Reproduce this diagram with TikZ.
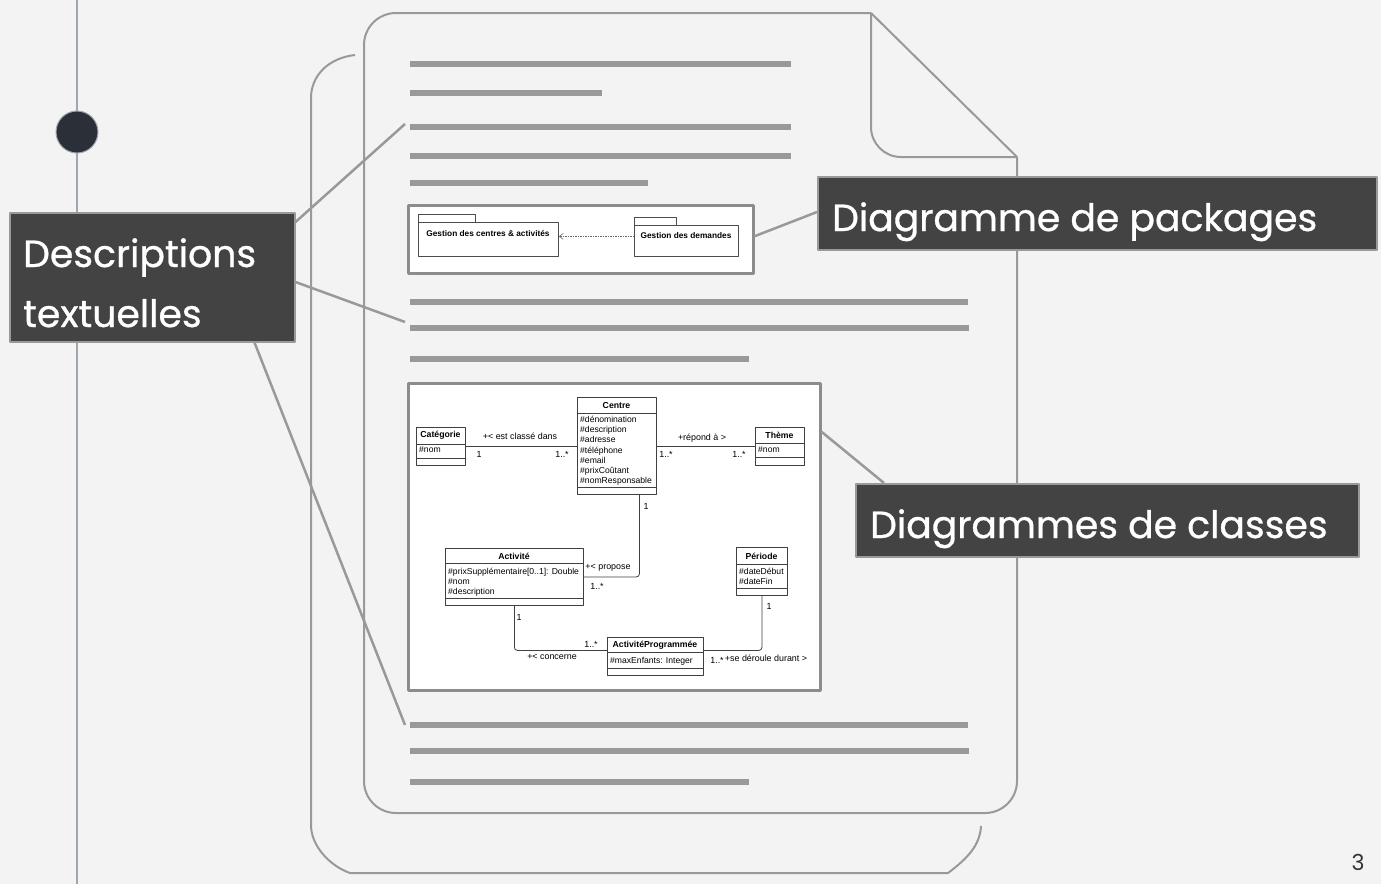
\documentclass[tikz,border=0pt]{standalone}
\usepackage{fontspec}
\usepackage{tikz}
\usetikzlibrary{arrows.meta}
\setmainfont{Liberation Sans}
\newfontfamily\tagfont{Poppins}[FakeBold=0.8]
\newfontfamily\numfont{Poppins}
\definecolor{bgc}{RGB}{243,243,243}
\definecolor{barc}{RGB}{153,153,153}
\definecolor{tagc}{RGB}{67,67,67}
\definecolor{dotc}{RGB}{43,47,56}
\definecolor{rulec}{RGB}{160,166,176}

\begin{document}
\begin{tikzpicture}[x=1pt, y=-1pt, line join=round,
  bar/.style={barc, line width=6pt},
  page/.style={barc, line width=2pt},
  link/.style={barc, line width=2.5pt},
  tag/.style={fill=tagc, draw=barc, line width=1.5pt, anchor=north west, inner sep=0pt},
  tagtext/.style={text=white, anchor=base west, inner sep=0pt, font=\tagfont\fontsize{37.8}{44}\selectfont},
  fig/.style={fill=white, draw=black!45, line width=2.5pt, anchor=north west, inner sep=0pt},
  cls/.style={fill=white, draw=black!75, line width=.8pt, anchor=north west, inner sep=0pt},
  sep/.style={draw=black!75, line width=.8pt},
  ttl/.style={font=\bfseries\fontsize{8.7}{10}\selectfont, inner sep=0pt},
  att/.style={font=\fontsize{8.6}{10.2}\selectfont, align=left, anchor=north west, inner sep=0pt},
  lbl/.style={font=\fontsize{8.9}{10}\selectfont, inner sep=0pt},
  assoc/.style={draw=black!75, line width=.8pt, rounded corners=3pt}]
\fill[bgc] (0,0) rectangle (1381,884);
\useasboundingbox (0,0) rectangle (1381,884);

\draw[rulec, line width=1.5pt] (77,0) -- (77,884);
\draw[fill=dotc, draw=rulec, line width=1pt] (77,132) circle (21pt);

% pages
\draw[page] (355,55) .. controls (328,58) and (311,76) .. (311,98) -- (311,825)
  .. controls (311,846) and (330,866) .. (350,873) -- (948,873)
  .. controls (968,858) and (980,845) .. (981,826);
\draw[page, rounded corners=32pt] (871,13) -- (364,13) -- (364,813) -- (1017,813) -- (1017,157);
\draw[page] (871,13) -- (1017,157);
\draw[page, rounded corners=30pt] (871,13) -- (871,157) -- (1017,157);

% text lines
\foreach \y/\x in {64/791, 93/602, 127/791, 156/791, 183/648, 302/968, 328/969, 359/749, 725/968, 751/969, 782/749}
  \draw[bar] (410,\y) -- (\x,\y);

% package diagram
\node[fig, minimum width=345pt, minimum height=68pt] (pkgfig) at (407,204) {};
\node[cls, draw=black!70, minimum width=57pt, minimum height=8pt] (pkg1tab) at (418,214) {};
\node[cls, draw=black!70, minimum width=140pt, minimum height=34pt] (pkg1) at (418,222) {};
\node[font=\bfseries\fontsize{8.3}{9}\selectfont, inner sep=0pt] (pkg1-t) at (488,233) {Gestion des centres \& activités};
\node[cls, draw=black!70, minimum width=42pt, minimum height=8pt] (pkg2tab) at (634,217) {};
\node[cls, draw=black!70, minimum width=104pt, minimum height=31pt] (pkg2) at (634,225) {};
\node[font=\bfseries\fontsize{8.3}{9}\selectfont, inner sep=0pt] (pkg2-t) at (686,236) {Gestion des demandes};
\draw[black!60, line width=.6pt, dash pattern=on 1.5pt off 1pt, -{Straight Barb[length=4pt, width=6pt]}]
  ([yshift=4.5pt]pkg2.west) -- ([yshift=4.5pt]pkg2.west -| pkg1.east);

% class diagram
\node[fig, minimum width=412pt, minimum height=307pt] (clsfig) at (407,382) {};

\node[cls, minimum width=49pt, minimum height=38pt] (categorie) at (416,427) {};
\draw[sep] (categorie.north west) ++(0,17) -- ++(49,0) ++(-49,14) -- ++(49,0);
\node[ttl] (categorie-t) at (440.5,435.5) {Catégorie};
\node[att] (categorie-a) at (419,446) {\#nom};

\node[cls, minimum width=79pt, minimum height=97pt] (centre) at (577,397) {};
\draw[sep] (centre.north west) ++(0,16) -- ++(79,0) ++(-79,74) -- ++(79,0);
\node[ttl] (centre-t) at (616.5,405) {Centre};
\node[att] (centre-a) at (580,416) {\#dénomination\\\#description\\\#adresse\\\#téléphone\\\#email\\\#prixCoûtant\\\#nomResponsable};

\node[cls, minimum width=49pt, minimum height=38pt] (theme) at (755,427) {};
\draw[sep] (theme.north west) ++(0,16) -- ++(49,0) ++(-49,14) -- ++(49,0);
\node[ttl] (theme-t) at (779.5,435) {Thème};
\node[att] (theme-a) at (758,446) {\#nom};

\node[cls, minimum width=138pt, minimum height=57pt] (activite) at (445,548) {};
\draw[sep] (activite.north west) ++(0,15) -- ++(138,0) ++(-138,35) -- ++(138,0);
\node[ttl] (activite-t) at (514,556) {Activité};
\node[att] (activite-a) at (448,568) {\#prixSupplémentaire[0..1]: Double\\\#nom\\\#description};

\node[cls, minimum width=51pt, minimum height=48pt] (periode) at (736,547) {};
\draw[sep] (periode.north west) ++(0,17) -- ++(51,0) ++(-51,24) -- ++(51,0);
\node[ttl] (periode-t) at (761.5,556) {Période};
\node[att] (periode-a) at (739,568) {\#dateDébut\\\#dateFin};

\node[cls, minimum width=96pt, minimum height=38pt] (actprog) at (607,637) {};
\draw[sep] (actprog.north west) ++(0,15) -- ++(96,0) ++(-96,16) -- ++(96,0);
\node[ttl] (actprog-t) at (655,645) {ActivitéProgrammée};
\node[att] (actprog-a) at (610,657) {\#maxEnfants: Integer};

\draw[assoc] ([yshift=0.5pt]categorie.east) -- ([yshift=0.5pt]categorie.east -| centre.west);
\draw[assoc] ([yshift=0.5pt]theme.west) -- ([yshift=0.5pt]theme.west -| centre.east);
\draw[assoc] ([xshift=22.5pt]centre.south) |- (activite.east);
\draw[assoc] (activite.south) |- ([yshift=6pt]actprog.west);
\draw[assoc] (periode.south) |- ([yshift=6pt]actprog.east);

\node[lbl] (l1) at (520,436) {+< est classé dans};
\node[lbl] (l2) at (479,454) {1};
\node[lbl] (l3) at (562,454) {1..*};
\node[lbl] (l4) at (702,438) {+répond à >};
\node[lbl] (l5) at (666,454) {1..*};
\node[lbl] (l6) at (739,454) {1..*};
\node[lbl] (l7) at (646,506) {1};
\node[lbl] (l8) at (608,568) {+< propose};
\node[lbl] (l9) at (597,586) {1..*};
\node[lbl] (l10) at (519,617) {1};
\node[lbl] (l11) at (591,644) {1..*};
\node[lbl] (l12) at (552,657) {+< concerne};
\node[lbl] (l13) at (769,606) {1};
\node[lbl] (l14) at (717,660) {1..*};
\node[lbl] (l15) at (766,658) {+se déroule durant >};

% tags
\node[tag, minimum width=285pt, minimum height=129pt] (desc) at (9,212) {};
\node[tagtext] (desc-t1) at (23,267) {Descriptions};
\node[tagtext] (desc-t2) at (23,327) {textuelles};
\node[tag, minimum width=559pt, minimum height=73pt] (pkgtag) at (817,176) {};
\node[tagtext] (pkgtag-t) at (832,231) {Diagramme de packages};
\node[tag, minimum width=503pt, minimum height=73pt] (clstag) at (855,483) {};
\node[tagtext] (clstag-t) at (870,538) {Diagrammes de classes};

\coordinate (d1) at (405,124);
\coordinate (d2) at (405,322);
\coordinate (d3) at (405,725);
\draw[link] ([yshift=-10pt]desc.north east) -- (d1);
\draw[link] ([yshift=-70pt]desc.north east) -- (d2);
\draw[link] ([xshift=-41pt]desc.south east) -- (d3);
\draw[link] ([yshift=3pt]pkgfig.east) -- ([yshift=-36pt]pkgtag.north west);
\draw[link] ([yshift=105pt]clsfig.east) -- ([xshift=29pt]clstag.north west);

\node[font=\numfont\fontsize{22}{26}\selectfont, text=black!80, inner sep=0pt] (pnum) at (1358,862) {3};
\end{tikzpicture}
\end{document}
